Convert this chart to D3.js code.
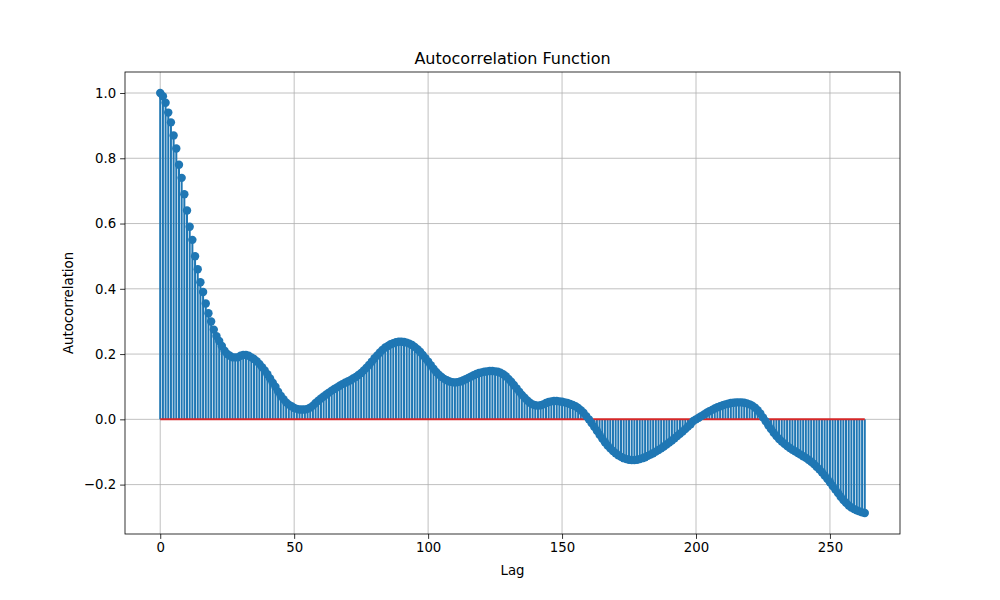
<!DOCTYPE html>
<html><head><meta charset="utf-8">
<script src="https://cdn.jsdelivr.net/npm/d3@7"></script>
<style>body{margin:0;background:#fff}svg{font-family:"DejaVu Sans",sans-serif}</style>
</head><body><svg id="c" width="1000" height="600"></svg>
<script>
const acf = [
1.0,0.99,0.97,0.94,0.91,0.87,0.83,0.78,0.74,0.69,
0.64,0.59,0.55,0.50,0.46,0.42,0.39,0.355,0.325,0.30,
0.275,0.255,0.24,0.225,0.21,0.20,0.195,0.19,0.19,0.19,
0.195,0.197,0.197,0.195,0.19,0.185,0.178,0.17,0.16,0.15,
0.138,0.125,0.112,0.10,0.085,0.072,0.062,0.052,0.045,0.04,
0.035,0.032,0.03,0.03,0.03,0.032,0.036,0.042,0.05,0.057,
0.064,0.07,0.076,0.082,0.088,0.093,0.098,0.103,0.108,0.112,
0.116,0.12,0.125,0.13,0.136,0.142,0.15,0.158,0.167,0.177,
0.187,0.196,0.205,0.213,0.22,0.225,0.23,0.233,0.236,0.238,
0.238,0.237,0.235,0.232,0.228,0.222,0.215,0.207,0.197,0.187,
0.177,0.166,0.155,0.145,0.137,0.13,0.124,0.12,0.116,0.114,
0.113,0.114,0.116,0.119,0.123,0.127,0.131,0.135,0.139,0.142,
0.144,0.146,0.147,0.148,0.148,0.147,0.146,0.143,0.138,0.132,
0.124,0.115,0.105,0.095,0.085,0.075,0.066,0.058,0.051,0.046,
0.043,0.042,0.043,0.046,0.05,0.053,0.055,0.056,0.056,0.055,
0.054,0.052,0.05,0.047,0.044,0.04,0.035,0.028,0.02,0.01,
0.0,-0.011,-0.023,-0.035,-0.047,-0.059,-0.07,-0.08,-0.089,-0.097,
-0.104,-0.11,-0.115,-0.119,-0.122,-0.124,-0.125,-0.125,-0.124,-0.122,
-0.119,-0.116,-0.112,-0.108,-0.104,-0.099,-0.094,-0.089,-0.083,-0.077,
-0.071,-0.065,-0.058,-0.051,-0.044,-0.037,-0.03,-0.022,-0.015,-0.005,
0.0,0.005,0.01,0.015,0.02,0.025,0.029,0.033,0.037,0.04,
0.043,0.046,0.048,0.05,0.051,0.052,0.052,0.052,0.051,0.049,
0.046,0.042,0.036,0.028,0.018,0.006,-0.006,-0.018,-0.03,-0.041,
-0.051,-0.06,-0.068,-0.075,-0.082,-0.088,-0.093,-0.098,-0.103,-0.108,
-0.113,-0.118,-0.124,-0.13,-0.137,-0.145,-0.153,-0.162,-0.172,-0.182,
-0.193,-0.204,-0.215,-0.226,-0.237,-0.247,-0.256,-0.264,-0.27,-0.275,
-0.279,-0.282,-0.285,-0.287];
const lags = acf.map((d,i)=>i);
const xTicks = [0,50,100,150,200,250];
const yTicks = [-0.2,0.0,0.2,0.4,0.6,0.8,1.0];

const L=125,R=900,T=72,B=534;
const svg=d3.select("#c");
const n=acf.length-1, mx=n*0.05;
const x=d3.scaleLinear().domain([-mx,n+mx]).range([L,R]);
const ymin=d3.min(acf), ymax=d3.max(acf), my=(ymax-ymin)*0.05;
const y=d3.scaleLinear().domain([ymin-my,ymax+my]).range([B,T]);

const g=svg.append("g");
g.selectAll(".gx").data(xTicks).join("line").attr("x1",d=>x(d)).attr("x2",d=>x(d)).attr("y1",T).attr("y2",B).attr("stroke","#b0b0b0").attr("stroke-width",0.8);
g.selectAll(".gy").data(yTicks).join("line").attr("y1",d=>y(d)).attr("y2",d=>y(d)).attr("x1",L).attr("x2",R).attr("stroke","#b0b0b0").attr("stroke-width",0.8);

g.selectAll(".stem").data(acf).join("line").attr("x1",(d,i)=>x(lags[i])).attr("x2",(d,i)=>x(lags[i])).attr("y1",y(0)).attr("y2",d=>y(d)).attr("stroke","#1f77b4").attr("stroke-width",2);
g.append("line").attr("x1",x(0)).attr("x2",x(n)).attr("y1",y(0)).attr("y2",y(0)).attr("stroke","#d62728").attr("stroke-width",2);
g.selectAll(".pt").data(acf).join("circle").attr("cx",(d,i)=>x(lags[i])).attr("cy",d=>y(d)).attr("r",4.2).attr("fill","#1f77b4");

const xa=svg.append("g").attr("transform",`translate(0,${B})`).call(d3.axisBottom(x).tickValues(xTicks).tickSize(4.9).tickPadding(4).tickFormat(d3.format("d")));
const ya=svg.append("g").attr("transform",`translate(${L},0)`).call(d3.axisLeft(y).tickValues(yTicks).tickSize(4.9).tickPadding(4).tickFormat(d=>d<0?"\u2212"+Math.abs(d).toFixed(1):d.toFixed(1)));
[xa,ya].forEach(a=>{a.select(".domain").remove();a.selectAll("text").attr("font-size",13.3).attr("fill","#000").attr("font-family","DejaVu Sans");a.selectAll("line").attr("stroke","#000").attr("stroke-width",0.8);});
svg.append("rect").attr("x",L).attr("y",T).attr("width",R-L).attr("height",B-T).attr("fill","none").attr("stroke","#000").attr("stroke-width",0.8);

svg.append("text").attr("x",(L+R)/2).attr("y",T-8).attr("text-anchor","middle").attr("font-size",16).text("Autocorrelation Function");
svg.append("text").attr("x",(L+R)/2).attr("y",575).attr("text-anchor","middle").attr("font-size",13.3).text("Lag");
svg.append("text").attr("transform",`translate(73,${(T+B)/2}) rotate(-90)`).attr("text-anchor","middle").attr("font-size",13.3).text("Autocorrelation");
</script></body></html>
